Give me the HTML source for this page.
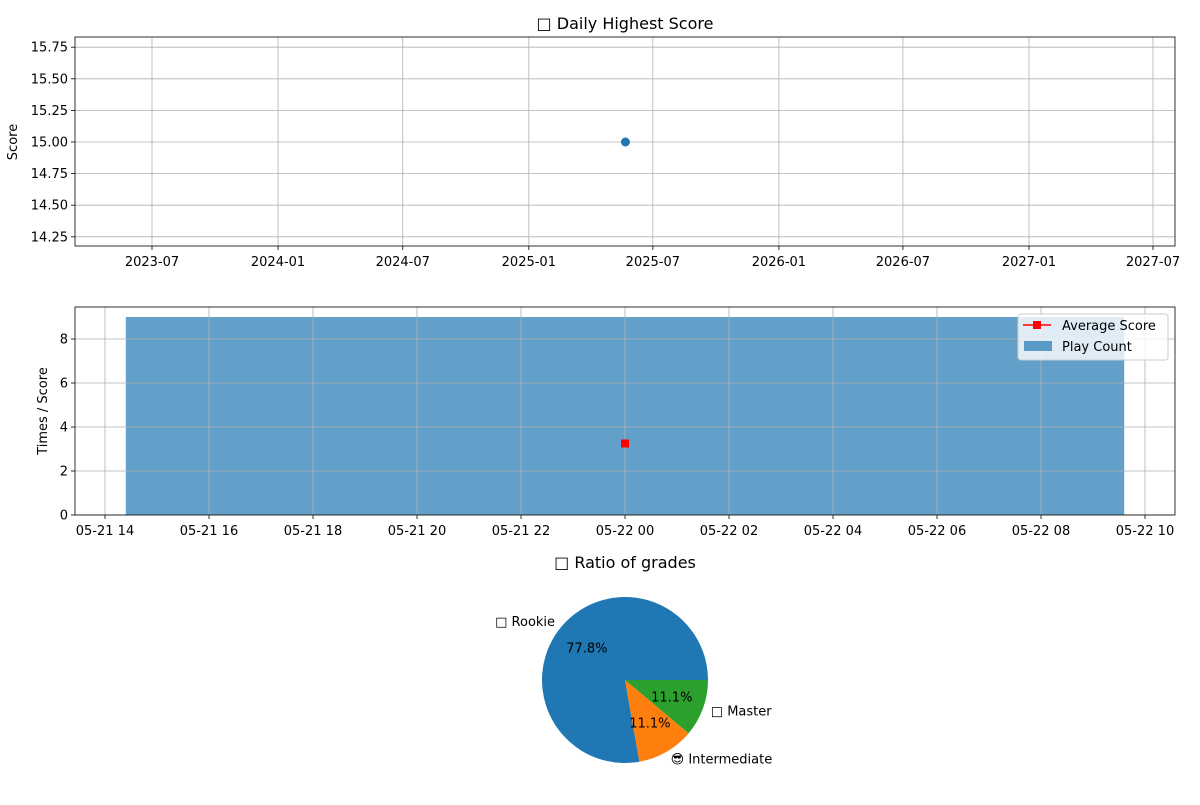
<!DOCTYPE html>
<html><head><meta charset="utf-8"><style>
body{margin:0;background:#fff;}
svg text{font-family:"DejaVu Sans","Liberation Sans",sans-serif;fill:#000;}
</style></head><body>
<svg id="c" width="1200" height="800" xmlns="http://www.w3.org/2000/svg"></svg>
<script>
// Chart 1 data
const scoreDates = ["2025-05-22"];
const scoreValues = [15.0];
const c1YTicks = [14.25,14.5,14.75,15.0,15.25,15.5,15.75];
const c1XTicks = ["2023-07","2024-01","2024-07","2025-01","2025-07","2026-01","2026-07","2027-01","2027-07"];
// Chart 2 data
const playHours = [24]; // hours after 05-21 00:00
const playCounts = [9];
const avgScores = [3.25];
const c2YTicks = [0,2,4,6,8];
const c2XTickHours = [14,16,18,20,22,24,26,28,30,32,34];
// Pie data
const gradeLabels = ["\u25A1 Rookie","\uD83D\uDE0E Intermediate","\u25A1 Master"];
const gradeCounts = [7,1,1];
const gradeColors = ["#1f77b4","#ff7f0e","#2ca02c"];

const FS=13;
const svg=document.getElementById('c');const NS="http://www.w3.org/2000/svg";
function mk(t,a,txt,name,par){const e=document.createElementNS(NS,t);for(const k in a)e.setAttribute(k,a[k]);


if(txt!=null)e.textContent=txt;(par||svg).appendChild(e);return e;}

// ---- Chart 1 ----
const t0=Date.UTC(2023,6,1),t1=Date.UTC(2027,6,1);
const x1=d=>152+(d-t0)/(t1-t0)*(1153-152);
const y1=v=>142-(v-15)/0.25*31.6;
const L1=75,R1=1175,T1=37,B1=246;
const g1=mk('g',{},null,'score-chart');
c1XTicks.forEach(s=>{const [yy,mm]=s.split('-').map(Number);const x=x1(Date.UTC(yy,mm-1,1));
mk('line',{x1:x,x2:x,y1:T1,y2:B1,stroke:'#b0b0b0','stroke-width':0.8},null,'x-gridline',g1);
mk('line',{x1:x,x2:x,y1:B1,y2:B1+4,stroke:'#000','stroke-width':0.8},null,'x-tick',g1);
mk('text',{x:x,y:B1+20,'text-anchor':'middle','font-size':FS},s,'x-tick-label',g1);});
c1YTicks.forEach(v=>{const y=y1(v);
mk('line',{x1:L1,x2:R1,y1:y,y2:y,stroke:'#b0b0b0','stroke-width':0.8},null,'y-gridline',g1);
mk('line',{x1:L1-4,x2:L1,y1:y,y2:y,stroke:'#000','stroke-width':0.8},null,'y-tick',g1);
mk('text',{x:L1-7,y:y+4.5,'text-anchor':'end','font-size':FS},v.toFixed(2),'y-tick-label',g1);});
scoreDates.forEach((d,i)=>{const [a,b,cc]=d.split('-').map(Number);
mk('circle',{cx:x1(Date.UTC(a,b-1,cc)),cy:y1(scoreValues[i]),r:4.5,fill:'#1f77b4'},null,'score-point',g1);});
mk('rect',{x:L1,y:T1,width:R1-L1,height:B1-T1,fill:'none',stroke:'#000','stroke-width':0.8},null,'plot-frame',g1);
mk('text',{x:625,y:29,'text-anchor':'middle','font-size':16},'\u25A1 Daily Highest Score','chart-title',g1);
mk('text',{x:0,y:0,transform:'translate(17,142) rotate(-90)','text-anchor':'middle','font-size':FS},'Score','y-axis-title',g1);

// ---- Chart 2 ----
const L2=75,R2=1175,T2=307,B2=515;
const x2=h=>105+(h-14)*52;
const y2=v=>515-v*22;
const g2=mk('g',{},null,'play-chart');
playHours.forEach((h,i)=>{const w=19.2;
mk('rect',{x:x2(h-w/2),y:y2(playCounts[i]),width:x2(h+w/2)-x2(h-w/2),height:y2(0)-y2(playCounts[i]),fill:'#1f77b4','fill-opacity':0.7},null,'play-count-bar',g2);});
c2XTickHours.forEach(h=>{const x=x2(h);
mk('line',{x1:x,x2:x,y1:T2,y2:B2,stroke:'#b0b0b0','stroke-width':0.8},null,'x-gridline',g2);
mk('line',{x1:x,x2:x,y1:B2,y2:B2+4,stroke:'#000','stroke-width':0.8},null,'x-tick',g2);
const day=h>=24?22:21,hh=String(h%24).padStart(2,'0');
mk('text',{x:x,y:B2+20,'text-anchor':'middle','font-size':FS},'05-'+day+' '+hh,'x-tick-label',g2);});
c2YTicks.forEach(v=>{const y=y2(v);
mk('line',{x1:L2,x2:R2,y1:y,y2:y,stroke:'#b0b0b0','stroke-width':0.8},null,'y-gridline',g2);
mk('line',{x1:L2-4,x2:L2,y1:y,y2:y,stroke:'#000','stroke-width':0.8},null,'y-tick',g2);
mk('text',{x:L2-7,y:y+4.5,'text-anchor':'end','font-size':FS},String(v),'y-tick-label',g2);});
playHours.forEach((h,i)=>{mk('rect',{x:x2(h)-4,y:y2(avgScores[i])-4,width:8,height:8,fill:'#ff0000'},null,'average-score-marker',g2);});
mk('rect',{x:L2,y:T2,width:R2-L2,height:B2-T2,fill:'none',stroke:'#000','stroke-width':0.8},null,'plot-frame',g2);
mk('text',{x:0,y:0,transform:'translate(47,411) rotate(-90)','text-anchor':'middle','font-size':FS},'Times / Score','y-axis-title',g2);
const lg=mk('g',{},null,'legend',g2);
mk('rect',{x:1018,y:314,width:150,height:46,rx:3,fill:'#fff','fill-opacity':0.8,stroke:'#ccc'},null,'legend-box',lg);
mk('line',{x1:1023,x2:1051,y1:325,y2:325,stroke:'#ff0000','stroke-width':1.5},null,'legend-line',lg);
mk('rect',{x:1033,y:321,width:8,height:8,fill:'#ff0000'},null,'legend-marker',lg);
mk('text',{x:1062,y:330,'font-size':FS},'Average Score','legend-entry',lg);
mk('rect',{x:1024,y:341,width:28,height:10,fill:'#1f77b4','fill-opacity':0.7},null,'legend-swatch',lg);
mk('text',{x:1062,y:351,'font-size':FS},'Play Count','legend-entry',lg);

// ---- Pie ----
const g3=mk('g',{},null,'grade-pie',svg);
mk('text',{x:625,y:568,'text-anchor':'middle','font-size':16},'\u25A1 Ratio of grades','pie-title',g3);
const cx=625,cy=680,r=83,tot=gradeCounts.reduce((a,b)=>a+b,0);
let a0=0;
gradeCounts.forEach((v,i)=>{const a1=a0+v/tot*2*Math.PI;
const p=t=>[cx+r*Math.cos(t),cy-r*Math.sin(t)];const [sx,sy]=p(a0),[ex,ey]=p(a1);
const large=(a1-a0)>Math.PI?1:0;
mk('path',{d:`M${cx},${cy}L${sx},${sy}A${r},${r} 0 ${large} 0 ${ex},${ey}Z`,fill:gradeColors[i]},null,'pie-slice',g3);
const m=(a0+a1)/2;
mk('text',{x:cx+0.6*r*Math.cos(m),y:cy-0.6*r*Math.sin(m)+4.5,'text-anchor':'middle','font-size':FS},(v/tot*100).toFixed(1)+'%','pie-percent-label',g3);
const lx=cx+1.1*r*Math.cos(m),ly=cy-1.1*r*Math.sin(m);
mk('text',{x:lx,y:ly+4.5,'text-anchor':Math.cos(m)<0?'end':'start','font-size':FS},gradeLabels[i],'pie-label',g3);
a0=a1;});
</script>
</body></html>
